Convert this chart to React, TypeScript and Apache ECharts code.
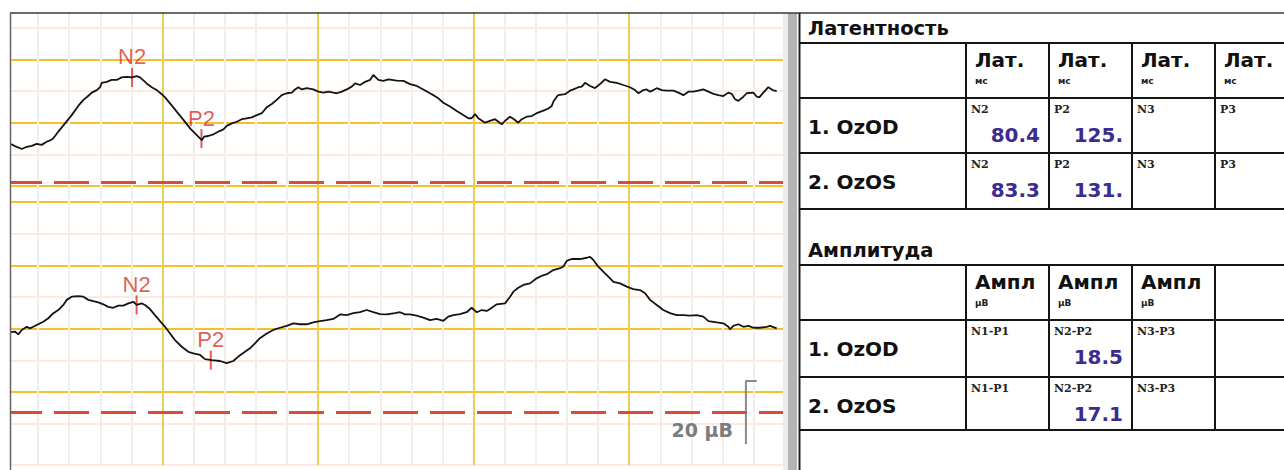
import React, { useEffect, useRef } from "react";
import * as echarts from "echarts";

// ---------------- data ----------------
const channelNames = ["1. OzOD", "2. OzOS"];

const latencyTitle = "Латентность";
const latencyHeader = "Лат.";
const latencyUnit = "мс";
const latencyPeaks = ["N2", "P2", "N3", "P3"];
const latencyCh1 = ["80.4", "125.", "", ""];
const latencyCh2 = ["83.3", "131.", "", ""];

const amplitudeTitle = "Амплитуда";
const amplitudeHeader = "Ампл";
const amplitudeUnit = "µВ";
const amplitudePairs = ["N1-P1", "N2-P2", "N3-P3"];
const amplitudeCh1 = ["", "18.5", ""];
const amplitudeCh2 = ["", "17.1", ""];

// marker latencies (ms) and the trace level (µV) at each marker
const n2Latency = [80.4, 83.3];
const p2Latency = [125, 131];
const n2Level = [-14.3, 12.5];
const p2Level = [5.0, 29.9];

// red dashed cursor level per channel (µV)
const cursorLevel = [18.7, 46.5];

// calibration bar
const scaleBarUv = 20;
const scaleBarTime = 475;
const scaleBarTop = 36.5;
const scaleBarHook = 7;
const scaleLabel = "20 µВ";

// time axis (ms)
const timeMin = 0;
const timeMax = 500;
const timeStep = 20;

// traces: [time ms, µV] (negative up)
const trace1: number[][] = [
  [2.4, 6.7], [5.1, 7.4], [9.5, 8.3], [12.7, 7.6], [15.9, 7.3], [19.1, 6.7], [22.3, 7.0], [25.5, 6.0],
  [28.1, 5.5], [29.8, 4.9], [33.0, 2.8], [37.3, 0.2], [41.6, -2.4], [45.8, -5.3], [49.1, -7.2], [51.6, -8.2],
  [54.5, -9.5], [57.7, -10.3], [59.8, -11.2], [60.9, -12.6], [64.1, -12.9], [67.3, -13.5], [70.5, -13.5],
  [73.7, -14.3], [77.0, -14.5], [80.2, -14.3], [83.4, -14.7], [85.5, -14.3], [89.8, -12.4], [93.0, -11.2],
  [96.2, -10.3], [99.5, -9.0], [101.6, -8.0], [104.8, -6.1], [109.1, -3.5], [113.4, -0.9], [117.7, 1.8],
  [122.0, 3.9], [125.2, 5.5], [126.7, 4.4], [129.4, 4.2], [132.6, 3.7], [135.9, 2.8], [139.1, 2.1],
  [141.3, 1.0], [144.5, 0.2], [147.7, -0.3], [150.9, -1.1], [154.1, -1.4], [157.3, -1.7], [160.6, -2.4],
  [163.8, -3.0], [167.0, -4.9], [170.2, -5.9], [173.4, -7.2], [176.6, -8.7], [179.8, -9.3], [183.1, -9.5],
  [185.2, -10.5], [187.3, -11.2], [189.5, -10.5], [192.7, -10.9], [196.9, -10.5], [200.2, -9.8],
  [203.4, -9.5], [206.6, -9.8], [209.8, -9.5], [212.0, -9.3], [215.2, -9.8], [218.4, -10.5], [221.6, -11.4],
  [223.8, -12.4], [227.0, -11.9], [230.2, -12.9], [233.4, -13.5], [235.5, -15.1], [238.7, -13.5],
  [241.9, -13.2], [245.2, -13.7], [250.5, -13.3], [254.8, -13.2], [259.1, -12.2], [263.4, -11.6],
  [267.6, -10.5], [271.9, -9.3], [274.1, -8.7], [277.3, -7.7], [280.5, -6.3], [284.8, -5.1], [289.1, -3.7],
  [293.3, -2.4], [296.6, -1.4], [298.7, -1.4], [300.9, -2.7], [303.0, -1.4], [307.3, 0], [310.5, -0.6],
  [313.7, -1.1], [315.9, -0.3], [318.0, 0.5], [320.2, -0.6], [323.4, -1.9], [325.9, -1.1], [328.7, 0],
  [330.9, -1.1], [334.1, -1.9], [337.3, -2.1], [340.5, -3.0], [344.8, -3.8], [348.0, -4.5], [350.2, -5.3],
  [351.2, -6.6], [353.4, -8.2], [354.4, -8.7], [358.7, -9.0], [361.9, -10.1], [364.1, -10.5], [367.3, -11.2],
  [369.5, -11.4], [371.6, -12.6], [374.8, -11.6], [378.0, -10.9], [381.2, -12.2], [384.4, -13.7],
  [387.7, -12.9], [392.0, -12.6], [396.2, -11.9], [400.5, -11.2], [403.7, -10.3], [405.9, -9.3],
  [409.1, -10.3], [411.2, -10.5], [413.4, -9.8], [415.5, -10.3], [417.7, -10.9], [420.9, -10.3],
  [424.1, -10.1], [428.4, -10.1], [431.6, -9.5], [434.8, -8.7], [438.0, -9.8], [441.2, -9.8], [444.4, -10.1],
  [447.6, -10.5], [450.9, -9.8], [454.1, -9.1], [457.3, -8.7], [460.5, -8.4], [463.7, -9.5], [465.9, -9.1],
  [468.0, -7.4], [470.1, -6.9], [473.4, -8.2], [475.5, -9.3], [479.8, -9.5], [482.0, -8.2], [483.6, -8.0],
  [486.2, -9.5], [489.4, -11.2], [492.2, -10.3], [494.8, -10.0],
];

const trace2: number[][] = [
  [2.4, 21.1], [5.1, 20.9], [7.3, 21.8], [9.5, 20.4], [12.7, 19.4], [14.8, 19.9], [16.9, 19.4], [20.1, 18.6],
  [23.3, 17.8], [26.6, 16.7], [29.8, 15.1], [33.0, 14.1], [36.2, 12.5], [38.4, 10.9], [41.6, 9.9], [45.8, 9.7],
  [49.1, 9.9], [52.3, 10.9], [55.5, 11.3], [58.7, 11.7], [61.9, 12.3], [65.1, 13.1], [68.3, 13.4],
  [71.6, 12.7], [74.8, 12.7], [78.0, 12.0], [81.2, 11.5], [83.4, 12.5], [86.6, 12.0], [88.7, 12.5],
  [91.9, 13.8], [95.1, 15.7], [98.4, 17.6], [101.6, 19.4], [104.8, 21.5], [108.0, 23.6], [112.3, 25.7],
  [116.6, 27.3], [119.8, 27.8], [124.1, 28.3], [127.3, 29.6], [131.6, 29.9], [136.9, 30.2], [141.2, 30.9],
  [145.5, 30.2], [148.7, 28.8], [153.0, 27.3], [156.2, 26.2], [159.4, 24.6], [162.6, 23.0], [167.0, 21.5],
  [171.2, 20.4], [175.5, 19.7], [179.8, 19.1], [184.1, 18.3], [188.4, 18.6], [192.7, 18.6], [196.9, 18.0],
  [201.2, 17.6], [205.5, 17.3], [209.8, 16.9], [214.1, 15.5], [218.4, 15.7], [222.6, 15.1], [226.9, 14.8],
  [231.2, 14.1], [235.5, 14.8], [239.8, 15.4], [244.1, 15.5], [249.4, 15.1], [252.6, 14.8], [255.9, 15.5],
  [259.1, 15.5], [263.4, 15.9], [267.6, 16.5], [271.9, 17.3], [276.2, 16.9], [280.5, 17.5], [283.7, 16.2],
  [286.9, 15.7], [291.2, 15.4], [295.5, 14.8], [298.7, 13.4], [302.0, 14.8], [305.2, 14.1], [308.4, 14.4],
  [310.5, 13.8], [314.8, 12.3], [320.2, 12.0], [323.4, 9.9], [325.5, 8.3], [328.7, 7.1], [331.9, 6.2],
  [336.2, 5.7], [340.5, 4.1], [343.7, 3.3], [347.0, 2.8], [351.2, 1.5], [355.5, 0.9], [357.6, 0.4],
  [359.8, -1.4], [363.0, -2.0], [368.4, -2.0], [372.7, -2.4], [374.8, -2.7], [376.9, -1.7], [380.1, 0.4],
  [384.4, 2.5], [387.7, 4.1], [389.8, 5.2], [394.1, 5.7], [398.4, 6.7], [402.6, 7.5], [406.9, 7.8],
  [410.2, 8.8], [413.4, 10.9], [417.7, 12.5], [421.9, 14.1], [426.2, 15.1], [430.5, 15.7], [434.8, 15.7],
  [439.1, 15.9], [443.4, 15.7], [447.6, 16.2], [450.9, 17.6], [456.3, 18.0], [460.5, 18.3], [463.7, 19.4],
  [464.8, 20.2], [466.9, 19.1], [470.1, 18.6], [473.4, 19.4], [476.6, 19.1], [479.8, 19.7], [484.1, 19.7],
  [488.4, 19.4], [490.5, 19.1], [494.8, 19.9],
];

// ---------------- styles ----------------
const Y_H = "#f6bf2c";
const M_H = "#fbeadd";
const Y_V = "#e9cf55";
const M_V = "#f3eeea";
const RED = "#d9352b";
const DASH_RED = "#dd4a3a";
const TRACE = "#141414";
const VALUE_BLUE = "#3b2d8e";
const SANS = "'DejaVu Sans', sans-serif";
const Z = 100;

const rect = (x: number, y: number, w: number, h: number, fill: string) => ({
  type: "rect", z: Z, silent: true, shape: { x, y, width: w, height: h }, style: { fill },
});
const seg = (x1: number, y1: number, x2: number, y2: number, stroke: string, lw: number) => ({
  type: "line", z: Z, silent: true, shape: { x1, y1, x2, y2 }, style: { stroke, lineWidth: lw },
});
const txt = (x: number, y: number, t: string, font: string, fill: string, align = "left") => ({
  type: "text", z: Z, silent: true,
  style: { x, y, text: t, font, fill, align, textAlign: align, verticalAlign: "middle", textVerticalAlign: "middle" },
});

function buildGraphics() {
  const g: any[] = [];
  // frame covers
  g.push(rect(0, 0, 1284, 12.5, "#ffffff"));
  g.push(rect(0, 0, 10, 470, "#ffffff"));
  g.push(rect(783, 13, 5, 457, "#ececec"));
  g.push(rect(788, 13, 9, 457, "#b5b5b5"));
  g.push(rect(797, 13, 487, 457, "#ffffff"));
  g.push(seg(10, 13, 1284, 13, "#3a3a3a", 1.5));
  g.push(seg(10.5, 13, 10.5, 470, "#666666", 1.5));
  g.push(seg(799.5, 13, 799.5, 470, "#222222", 2));

  const colX = [799, 966, 1049, 1132, 1215, 1298];
  const tables = [
    { title: latencyTitle, titleY: 28, rows: [43, 98, 153, 209], header: latencyHeader, unit: latencyUnit, tags: latencyPeaks, values: [latencyCh1, latencyCh2] },
    { title: amplitudeTitle, titleY: 250, rows: [265, 320, 377, 430], header: amplitudeHeader, unit: amplitudeUnit, tags: amplitudePairs, values: [amplitudeCh1, amplitudeCh2] },
  ];
  tables.forEach((T) => {
    g.push(txt(808, T.titleY, T.title, `bold 19.5px ${SANS}`, "#111111"));
    T.rows.forEach((ry) => g.push(seg(799, ry, 1284, ry, "#151515", 2)));
    for (let c = 1; c <= 4; c++) g.push(seg(colX[c], T.rows[0], colX[c], T.rows[3], "#151515", 2));
    T.tags.forEach((tag, i) => {
      const left = colX[i + 1];
      g.push(txt(left + 9, T.rows[0] + 17, T.header, `bold 20px ${SANS}`, "#111111"));
      g.push(txt(left + 9, T.rows[0] + 38, T.unit, `bold 9px ${SANS}`, "#222222"));
    });
    for (let r = 0; r < 2; r++) {
      const top = T.rows[r + 1];
      g.push(txt(808, top + 29, channelNames[r], `bold 20px ${SANS}`, "#111111"));
      T.tags.forEach((tag, i) => {
        g.push(txt(colX[i + 1] + 5, top + 11, tag, `bold 11px 'DejaVu Serif', serif`, "#222222"));
        const v = T.values[r][i];
        if (v) g.push(txt(colX[i + 2] - 9, top + 37, v, `bold 20px ${SANS}`, VALUE_BLUE, "right"));
      });
    }
  });
  g.push(txt(733, 430, scaleLabel, `bold 19px ${SANS}`, "#7c7c7c", "right"));
  return g;
}

function markerSeries(ch: number) {
  return {
    type: "scatter",
    xAxisIndex: ch,
    yAxisIndex: ch,
    symbol: "rect",
    symbolSize: [2, 19],
    itemStyle: { color: RED },
    silent: true,
    label: {
      show: true, position: "top", distance: 0, formatter: "{b}",
      fontFamily: "'Liberation Sans', Arial, sans-serif", fontSize: 22, color: RED,
    },
    data: [
      { name: "N2", value: [n2Latency[ch], n2Level[ch]] },
      { name: "P2", value: [p2Latency[ch], p2Level[ch]] },
    ],
  };
}

function traceSeries(ch: number, data: number[][]) {
  return {
    type: "line",
    xAxisIndex: ch,
    yAxisIndex: ch,
    data,
    showSymbol: false,
    silent: true,
    lineStyle: { color: TRACE, width: 1.8 },
    markLine: {
      silent: true,
      symbol: ["none", "none"],
      label: { show: false },
      lineStyle: { color: DASH_RED, width: 3, type: [35, 12] },
      data: [{ yAxis: cursorLevel[ch] }],
    },
  };
}

const hidden = { axisLine: { show: false }, axisTick: { show: false }, axisLabel: { show: false } };

function buildOption() {
  const xAxis = [0, 1].map((i) => ({
    type: "value", gridIndex: i, min: timeMin, max: timeMax, interval: timeStep, ...hidden,
    splitLine: { show: true, lineStyle: { color: [Y_V, M_V, M_V, M_V, M_V], width: 2 } },
  }));
  const yAxis = [
    {
      type: "value", gridIndex: 0, inverse: true, min: -40, max: 25, interval: 10, ...hidden,
      splitLine: { show: true, lineStyle: { color: [Y_H, M_H, Y_H, M_H, Y_H, M_H, Y_H, Y_H], width: 2 } },
    },
    {
      type: "value", gridIndex: 1, inverse: true, min: -20, max: 63, interval: 10, ...hidden,
      splitLine: { show: true, lineStyle: { color: [Y_H, M_H, Y_H, M_H, Y_H, M_H, Y_H, M_H, "rgba(0,0,0,0)", M_H], width: 2 } },
    },
  ];
  return {
    animation: false,
    backgroundColor: "#ffffff",
    grid: [
      { left: 7, top: -4, width: 777.8, height: 205.9, containLabel: false, outerBoundsMode: "none" },
      { left: 7, top: 202, width: 777.8, height: 262.9, containLabel: false, outerBoundsMode: "none" },
    ],
    xAxis,
    yAxis,
    series: [
      traceSeries(0, trace1),
      markerSeries(0),
      traceSeries(1, trace2),
      markerSeries(1),
      {
        type: "line",
        xAxisIndex: 1,
        yAxisIndex: 1,
        showSymbol: false,
        silent: true,
        lineStyle: { color: "#8a8a8a", width: 2 },
        data: [
          [scaleBarTime + scaleBarHook, scaleBarTop],
          [scaleBarTime, scaleBarTop],
          [scaleBarTime, scaleBarTop + scaleBarUv],
        ],
      },
    ],
    graphic: { elements: buildGraphics() },
  };
}

export default function App() {
  const ref = useRef<HTMLDivElement>(null);
  useEffect(() => {
    if (!ref.current) return;
    const chart = echarts.init(ref.current, null, { renderer: "svg" });
    chart.setOption(buildOption() as any);
    return () => chart.dispose();
  }, []);
  return (
    <div
      ref={ref}
      style={{ position: "absolute", left: 0, top: 0, width: 1284, height: 470, background: "#ffffff" }}
    />
  );
}
